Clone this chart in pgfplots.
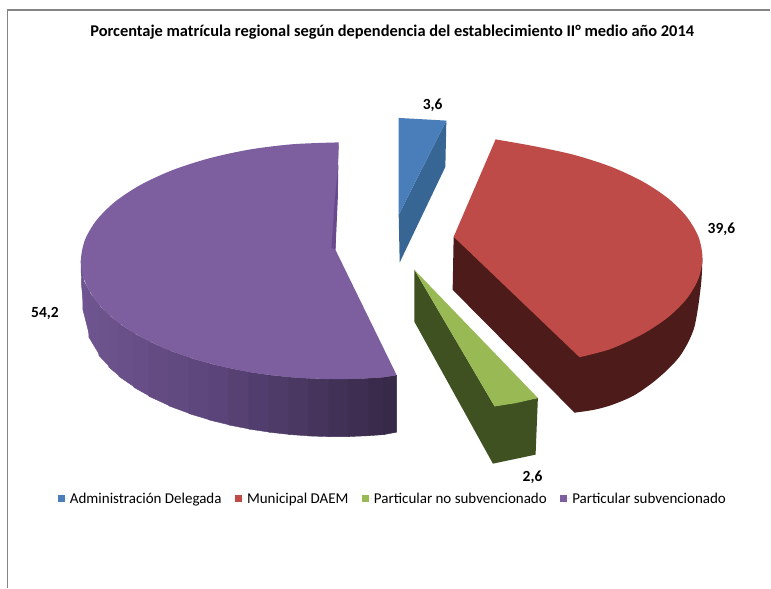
\documentclass[border=0pt]{standalone}
\usepackage{pgfplots}
\pgfplotsset{compat=1.18}
\usepackage{fontspec}
\setmainfont{Carlito}
\definecolor{bluetop}{HTML}{4A7EBB}
\definecolor{blueside}{HTML}{376695}
\definecolor{redtop}{HTML}{BE4B48}
\definecolor{redside}{HTML}{4C1B1A}
\definecolor{greentop}{HTML}{98B954}
\definecolor{greenside}{HTML}{3F5120}
\definecolor{purpletop}{HTML}{7D5FA0}
\definecolor{purplesliver}{HTML}{694A8E}
\definecolor{framegray}{HTML}{858585}
\begin{document}
\begin{tikzpicture}
\begin{axis}[
  scale only axis, width=771pt, height=588pt,
  xmin=0, xmax=771, ymin=0, ymax=588, y dir=reverse,
  hide axis, clip=false,
  legend columns=4,
  legend style={at={(axis cs:58,499)}, anchor=west, draw=none, fill=none,
    font=\fontsize{15}{17}\selectfont, inner sep=0pt, outer sep=0pt,
    /tikz/every even column/.append style={column sep=11.5pt}},
  legend image code/.code={\path[#1,draw=none] (0pt,-3.5pt) rectangle (7pt,3.5pt); \path (0pt,0pt) -- (10pt,0pt);},
  colormap={purpleside}{rgb255(0pt)=(112,86,144); rgb255(45pt)=(90,68,120); rgb255(100pt)=(54,40,70)},
]
\path[fill=white] (axis cs:0,0) rectangle (axis cs:771,588);
\draw[framegray, line width=1.2pt] (axis cs:7.5,588) -- (axis cs:7.5,10) -- (axis cs:771,10);

% sides
\addplot[fill=blueside, draw=none, forget plot] coordinates {(446.7,120.7) (445.7,167) (400,262.7) (399,215)} -- cycle;
\addplot[fill=redside, draw=none, forget plot, smooth] coordinates {(575,413) (595,410) (613,405) (634,396) (653,383) (668,370) (680,357) (689,342) (695,327) (699,305) (702,280) (703,258)} -- cycle;
\addplot[fill=redside, draw=none, forget plot] coordinates {(454,237) (453,290) (575,413) (660,340) (703,258) (580,300)} -- cycle;
\addplot[fill=greenside, draw=none, forget plot] coordinates {(414.7,270) (414.7,322) (493.3,464) (536,455) (538.3,398.3) (495,406.7)} -- cycle;
\addplot[patch, patch type=rectangle, shader=flat, point meta=x, forget plot] coordinates {
 (81,261) (81.5,285) (84,310) (84,280)
 (83,280) (83,310) (90,337.5) (90,292)
 (89,292) (89,337.5) (100,355.8) (100,305.7)
 (99,305.7) (99,355.8) (110,367.5) (110,315.7)
 (109,315.7) (109,367.5) (120,376.7) (120,323.8)
 (119,323.8) (119,376.7) (135,387.6) (135,333.7)
 (134,333.7) (134,387.6) (150,396.6) (150,341.8)
 (149,341.8) (149,396.6) (170,406.2) (170,350.7)
 (169,350.7) (169,406.2) (190,413.9) (190,357.9)
 (189,357.9) (189,413.9) (210,420.2) (210,363.8)
 (209,363.8) (209,420.2) (230,425.3) (230,368.5)
 (229,368.5) (229,425.3) (250,429.4) (250,372.3)
 (249,372.3) (249,429.4) (270,432.5) (270,375.3)
 (269,375.3) (269,432.5) (290,434.8) (290,377.4)
 (289,377.4) (289,434.8) (310,436.3) (310,378.8)
 (309,378.8) (309,436.3) (330,437) (330,379.4)
 (329,379.4) (329,437) (350,436.9) (350,379.3)
 (349,379.3) (349,436.9) (370,436) (370,378.6)
 (369,378.6) (369,436) (385,434.9) (385,377.5)
 (384,377.5) (384,434.9) (397,432.5) (397,375.5)
};

% top faces, in legend order
\addplot[fill=bluetop, draw=none] coordinates {(399,118) (446.7,120.7) (399,215)} -- cycle;
\addlegendentry{Administración Delegada}
\addplot[fill=redtop, draw=none, smooth] coordinates {(496,139.5) (533.9,146.2) (574.5,155) (611.2,166.8) (642.9,181.5) (668.6,198.5) (687.5,217.3) (699.1,237.3) (703,258) (699.1,278.7) (687.5,298.7) (668.6,317.5) (642.9,334.5) (611.2,349.2) (580,357.5)} -- cycle;
\addlegendentry{Municipal DAEM}
\addplot[fill=redtop, draw=none, forget plot] coordinates {(454,237) (496,139.5) (600,250) (580,357.5)} -- cycle;
\addplot[fill=greentop, draw=none] coordinates {(414.7,270) (538.3,398.3) (516,403.5) (495,406.7)} -- cycle;
\addlegendentry{Particular no subvencionado}
\addplot[fill=purpletop, draw=none, smooth] coordinates {(339,142.5) (293.4,144.3) (250.1,149.6) (209.5,158.4) (172.8,170.2) (141.1,184.8) (115.4,201.7) (96.5,220.5) (84.9,240.4) (81,261) (84.9,281.6) (96.5,301.5) (115.4,320.3) (141.1,337.2) (172.8,351.8) (209.5,363.6) (250.1,372.4) (293.4,377.7) (330,379.4)} -- cycle;
\addlegendentry{Particular subvencionado}
\addplot[fill=purpletop, draw=none, forget plot] coordinates {(339,142.5) (335.7,250) (397,375.5) (382.6,377.7) (360,379) (338,379.5) (320,378.8) (320,300)} -- cycle;
\addplot[fill=purplesliver, draw=none, forget plot] coordinates {(338.6,165) (338,200) (335.7,250) (331.7,248) (335,200)} -- cycle;

\node[font=\fontsize{16.4}{18}\selectfont\bfseries] at (axis cs:392.5,32) {Porcentaje matrícula regional según dependencia del establecimiento II° medio año 2014};
\node[font=\fontsize{15.5}{17}\selectfont\bfseries] at (axis cs:433,105) {3,6};
\node[font=\fontsize{15.5}{17}\selectfont\bfseries] at (axis cs:722,229) {39,6};
\node[font=\fontsize{15.5}{17}\selectfont\bfseries] at (axis cs:45,314) {54,2};
\node[font=\fontsize{15.5}{17}\selectfont\bfseries] at (axis cs:533,478) {2,6};
\end{axis}
\end{tikzpicture}
\end{document}
